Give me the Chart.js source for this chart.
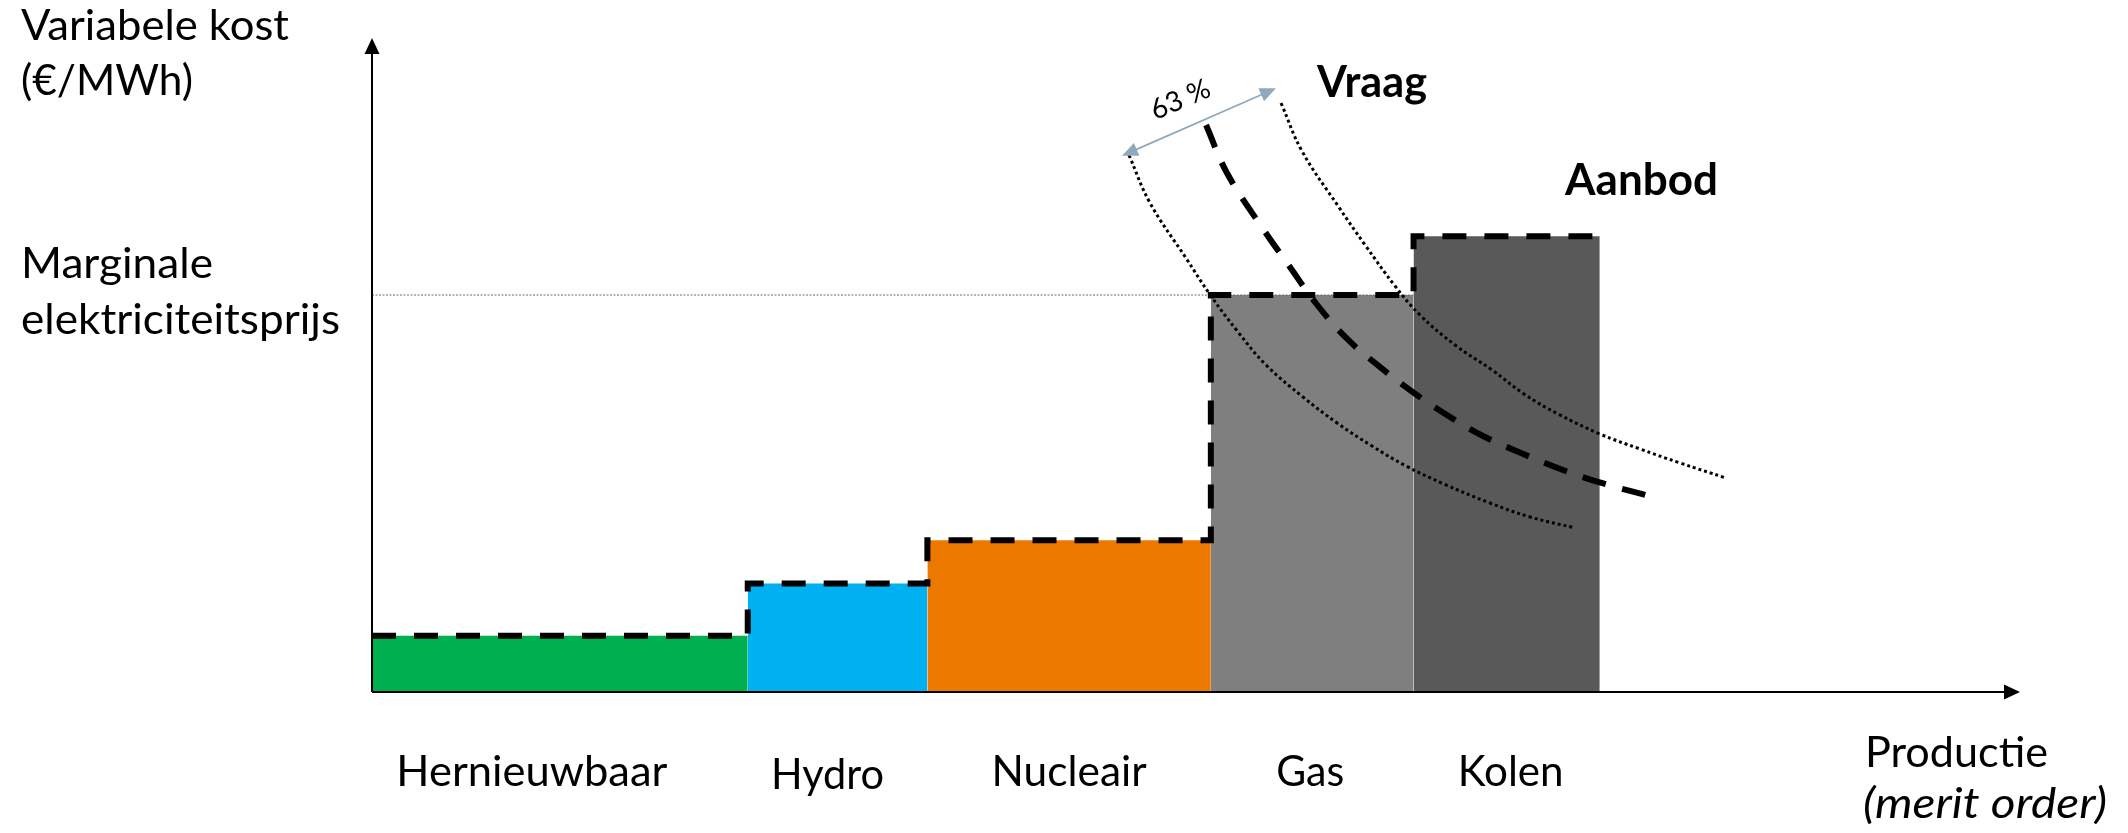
<!DOCTYPE html>
<html>
<head>
<meta charset="utf-8">
<script src="https://cdn.jsdelivr.net/npm/chart.js@4/dist/chart.umd.min.js"></script>
<style>
html,body{margin:0;padding:0;background:#fff;}
#wrap{width:2128px;height:833px;position:relative;}
</style>
</head>
<body>
<div id="wrap"><canvas id="c" width="2128" height="833"></canvas></div>
<script>
// ---------- data ----------
const categories   = ['Hernieuwbaar', 'Hydro', 'Nucleair', 'Gas', 'Kolen'];
const capacity     = [22.8, 10.9, 17.2, 12.3, 11.3];      // production share (x units)
const variableCost = [8.6, 16.6, 23.2, 60.7, 69.7];       // €/MWh (relative units)
const barColors    = ['#00B050', '#00B0F0', '#ED7800', '#7F7F7F', '#595959'];

// demand curve ("Vraag", dashed)
const demandX = [50.61, 51.88, 54.07, 55.70, 57.20, 59.04, 61.14, 63.23, 65.32, 67.42, 69.72, 72.27, 74.61, 77.73];
const demandY = [86.70, 79.36, 70.80, 64.98, 59.68, 54.33, 49.74, 45.72, 42.20, 39.14, 36.54, 33.94, 31.96, 29.82];
// lower demand (dotted)
const demandLowX = [45.93, 47.21, 49.39, 50.91, 52.55, 54.25, 56.49, 58.56, 60.68, 62.74, 65.05, 67.84, 70.27, 73.00];
const demandLowY = [82.11, 74.77, 66.36, 60.55, 55.05, 50.00, 45.11, 41.13, 37.61, 34.56, 31.80, 28.90, 26.76, 25.08];
// higher demand (dotted)
const demandHighX = [55.16, 56.43, 58.62, 60.26, 62.08, 63.59, 65.72, 67.96, 69.90, 71.97, 74.51, 76.94, 79.37, 82.16];
const demandHighY = [90.06, 82.72, 74.31, 68.35, 62.08, 57.65, 53.06, 49.24, 45.57, 42.51, 39.45, 37.16, 35.02, 32.72];

// spread arrow between the two dotted curves
const spreadFrom  = [45.51, 82.0];
const spreadTo    = [54.85, 92.3];
const spreadLabel = '63 %';

// texts
const yTitle      = ['Variabele kost', '(€/MWh)'];
const priceLabel  = ['Marginale', 'elektriciteitsprijs'];
const xTitle      = ['Productie', '(merit order)'];
const demandLabel = 'Vraag';
const supplyLabel = 'Aanbod';

// ---------- derived ----------
const starts = []; let acc = 0;
capacity.forEach(w => { starts.push(acc); acc += w; });
const ends = starts.map((s, i) => s + capacity[i]);
const n = categories.length;
const gasIndex = categories.indexOf('Gas');
const marginalPrice = variableCost[gasIndex];

const pts = (xs, ys) => xs.map((x, i) => ({x, y: ys[i]}));

const datasets = [];
categories.forEach((c, i) => {
  datasets.push({
    label: c,
    data: [{x: starts[i], y: variableCost[i]}, {x: ends[i], y: variableCost[i]}],
    showLine: true, fill: 'origin',
    backgroundColor: barColors[i],
    borderColor: 'rgba(0,0,0,0)', borderWidth: 0,
    pointRadius: 0, order: 10
  });
});
// marginal price reference line
datasets.push({
  label: 'marginal',
  data: [{x: 0, y: marginalPrice}, {x: ends[gasIndex], y: marginalPrice}],
  showLine: true, fill: false, borderColor: '#6b6b6b', borderWidth: 1,
  borderDash: [2, 1.5], pointRadius: 0, order: 8
});
// dotted demand variants
[[demandLowX, demandLowY], [demandHighX, demandHighY]].forEach(([xs, ys], k) => {
  datasets.push({
    label: k ? 'high' : 'low',
    data: pts(xs, ys), showLine: true, fill: false,
    borderColor: '#000', borderWidth: 3, borderDash: [3, 3],
    tension: 0.4, pointRadius: 0, order: 6, clip: false
  });
});
// demand
datasets.push({
  label: demandLabel, data: pts(demandX, demandY), showLine: true, fill: false,
  borderColor: '#000', borderWidth: 6, borderDash: [24, 17],
  tension: 0.4, pointRadius: 0, order: 4, clip: false
});
// supply (stepped, dashed)
const supplyPts = [{x: 0, y: variableCost[0]}].concat(
  ends.map((e, i) => ({x: e, y: variableCost[Math.min(i + 1, n - 1)]})));
datasets.push({
  label: supplyLabel, data: supplyPts, showLine: true, fill: false, stepped: 'before',
  borderColor: '#000', borderWidth: 6, borderDash: [24, 18], borderJoinStyle: 'miter',
  pointRadius: 0, order: 2, clip: false
});

// ---------- drawing helpers ----------
const FONT = 'Lato';
function txt(ctx, s, x, y, o = {}) {
  const size = o.size || 43, weight = o.weight || 'normal', style = o.style || 'normal';
  ctx.save();
  ctx.font = `${style} ${weight} ${size}px ${FONT}`;
  ctx.fillStyle = o.color || '#000';
  ctx.textBaseline = o.baseline || 'alphabetic';
  ctx.textAlign = o.align || 'left';
  const w = ctx.measureText(s).width;
  const sx = o.width ? o.width / w : 1;
  ctx.translate(x, y);
  if (o.rotate) ctx.rotate(o.rotate);
  ctx.scale(sx, 1);
  ctx.fillText(s, 0, 0);
  ctx.restore();
}
function arrowHead(ctx, tipX, tipY, ang, len, wid, color) {
  ctx.save();
  ctx.translate(tipX, tipY); ctx.rotate(ang);
  ctx.beginPath(); ctx.moveTo(0, 0); ctx.lineTo(-len, wid / 2); ctx.lineTo(-len, -wid / 2); ctx.closePath();
  ctx.fillStyle = color; ctx.fill();
  ctx.restore();
}

const decor = {
  id: 'decor',
  afterDatasetsDraw(chart) {
    const {ctx, scales: {x, y}} = chart;
    const x0 = x.getPixelForValue(0), y0 = y.getPixelForValue(0);
    const yTop = y.getPixelForValue(100), xEnd = x.getPixelForValue(100);
    ctx.save();
    ctx.strokeStyle = '#000'; ctx.lineWidth = 2;
    ctx.beginPath(); ctx.moveTo(x0, y0); ctx.lineTo(x0, yTop + 12); ctx.stroke();
    ctx.beginPath(); ctx.moveTo(x0, y0); ctx.lineTo(xEnd - 12, y0); ctx.stroke();
    arrowHead(ctx, x0, yTop, -Math.PI / 2, 16, 15, '#000');
    arrowHead(ctx, xEnd, y0, 0, 16, 15, '#000');
    // spread arrow
    const ax = x.getPixelForValue(spreadFrom[0]), ay = y.getPixelForValue(spreadFrom[1]);
    const bx = x.getPixelForValue(spreadTo[0]), by = y.getPixelForValue(spreadTo[1]);
    const ang = Math.atan2(by - ay, bx - ax);
    const col = '#8FA9BE';
    const L = 16;
    ctx.strokeStyle = col; ctx.lineWidth = 1.8;
    ctx.beginPath();
    ctx.moveTo(ax + Math.cos(ang) * (L - 2), ay + Math.sin(ang) * (L - 2));
    ctx.lineTo(bx - Math.cos(ang) * (L - 2), by - Math.sin(ang) * (L - 2));
    ctx.stroke();
    arrowHead(ctx, bx, by, ang, L, 14, col);
    arrowHead(ctx, ax, ay, ang + Math.PI, L, 14, col);
    // label along the arrow
    const mx = (ax + bx) / 2, my = (ay + by) / 2;
    const nx = Math.sin(ang), ny = -Math.cos(ang);
    txt(ctx, spreadLabel, mx + nx * 28 - Math.cos(ang) * 8, my + ny * 28 - Math.sin(ang) * 8,
        {size: 28, align: 'center', baseline: 'middle', rotate: ang});
    ctx.restore();
  },
  afterDraw(chart) {
    const {ctx, scales: {x}} = chart;
    // axis titles / annotations
    txt(ctx, yTitle[0], 21, 40, {width: 268});
    txt(ctx, yTitle[1], 21, 95, {width: 172});
    txt(ctx, priceLabel[0], 21, 278, {width: 192});
    txt(ctx, priceLabel[1], 21, 334, {width: 319});
    txt(ctx, xTitle[0], 1865, 767, {width: 183});
    txt(ctx, xTitle[1], 1863, 818, {width: 244, style: 'italic'});
    txt(ctx, demandLabel, 1317, 97, {weight: 'bold', width: 110});
    txt(ctx, supplyLabel, 1565, 195, {weight: 'bold', width: 153});
    // category labels under bars
    const labelShift = [-28, -10, 0, -2, 4];
    const labelWidth = [271, 113, 155, 68, 106];
    const labelBase  = [786, 789, 786, 786, 786];
    categories.forEach((c, i) => {
      const cx = x.getPixelForValue((starts[i] + ends[i]) / 2) + labelShift[i];
      txt(ctx, c, cx, labelBase[i], {align: 'center', width: labelWidth[i]});
    });
  }
};

new Chart(document.getElementById('c'), {
  type: 'scatter',
  data: {datasets},
  options: {
    responsive: false, animation: false, devicePixelRatio: 1,
    layout: {padding: {left: 372, right: 108, top: 38, bottom: 141}},
    scales: {
      x: {type: 'linear', min: 0, max: 100, display: false},
      y: {type: 'linear', min: 0, max: 100, display: false}
    },
    plugins: {legend: {display: false}, tooltip: {enabled: false}}
  },
  plugins: [decor]
});
</script>
</body>
</html>
